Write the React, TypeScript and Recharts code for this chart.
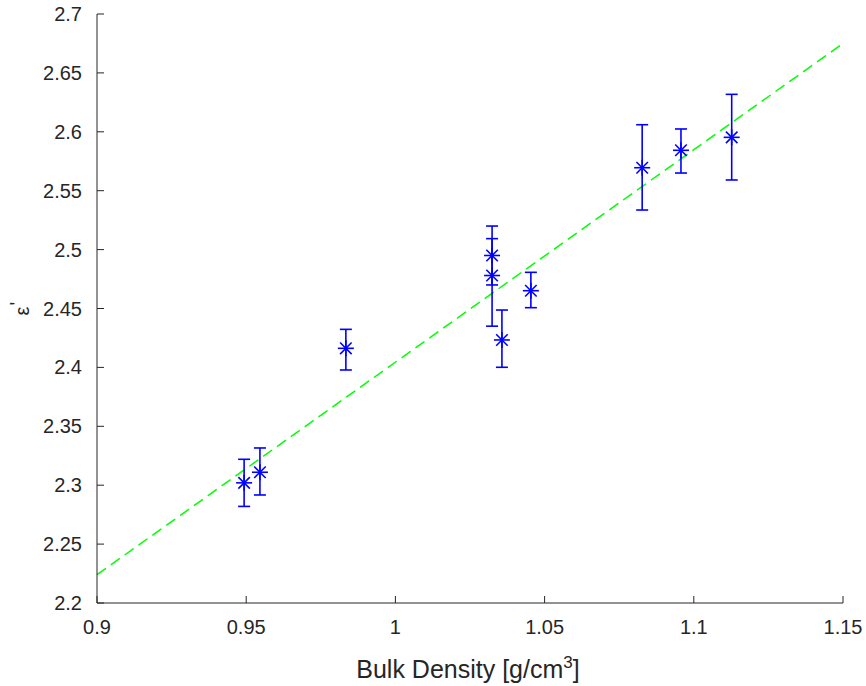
import {
  ScatterChart,
  Scatter,
  XAxis,
  YAxis,
  ErrorBar,
  ReferenceLine,
} from "recharts";

const density = [0.9493, 0.9546, 0.9834, 1.0324, 1.0324, 1.0357, 1.0454, 1.0827, 1.0957, 1.1127];
const permittivity = [2.302, 2.311, 2.4162, 2.495, 2.478, 2.4233, 2.4651, 2.5695, 2.5843, 2.5953];
const lowerBound = [2.282, 2.2917, 2.3978, 2.47, 2.435, 2.4001, 2.4507, 2.5336, 2.565, 2.5591];
const upperBound = [2.322, 2.3316, 2.4323, 2.52, 2.5093, 2.4487, 2.4807, 2.606, 2.6024, 2.6318];

const xTicks = [0.9, 0.95, 1, 1.05, 1.1, 1.15];
const yTicks = [2.2, 2.25, 2.3, 2.35, 2.4, 2.45, 2.5, 2.55, 2.6, 2.65, 2.7];

// least squares fit line, end points
const fitStart = { x: 0.9, y: 2.224 };
const fitEnd = { x: 1.15, y: 2.675 };

const points = density.map((d, i) => ({
  density: d,
  eps: permittivity[i],
  err: [permittivity[i] - lowerBound[i], upperBound[i] - permittivity[i]],
}));

const AXIS = "#262626";
const FONT = "'Liberation Sans', Arial, Helvetica, sans-serif";
const TICK_LEN = 7;

const fmt = (v: number) => String(Number(v.toFixed(2)));

function StarMarker(props: any) {
  const { cx, cy } = props;
  const r = 8;
  const d = r * 0.72;
  return (
    <g stroke="#0000ff" strokeWidth={1.6}>
      <line x1={cx - r} y1={cy} x2={cx + r} y2={cy} />
      <line x1={cx} y1={cy - r} x2={cx} y2={cy + r} />
      <line x1={cx - d} y1={cy - d} x2={cx + d} y2={cy + d} />
      <line x1={cx - d} y1={cy + d} x2={cx + d} y2={cy - d} />
    </g>
  );
}

function XTick(props: any) {
  const { x, y, payload } = props;
  return (
    <g>
      <line x1={x} y1={y} x2={x} y2={y - TICK_LEN} stroke={AXIS} />
      <text x={x} y={y + 31} textAnchor="middle" fill={AXIS} fontSize={20} fontFamily={FONT}>
        {fmt(payload.value)}
      </text>
    </g>
  );
}

function YTick(props: any) {
  const { x, y, payload } = props;
  return (
    <g>
      <line x1={x} y1={y} x2={x + TICK_LEN} y2={y} stroke={AXIS} />
      <text x={x - 15} y={y + 7} textAnchor="end" fill={AXIS} fontSize={20} fontFamily={FONT}>
        {fmt(payload.value)}
      </text>
    </g>
  );
}

export default function App() {
  return (
    <div style={{ position: "absolute", left: 0, top: 0, width: 866, height: 686, background: "#fff" }}>
      <ScatterChart
        width={866}
        height={686}
        margin={{ top: 14, right: 23, bottom: 0, left: 0 }}
      >
        <XAxis
          type="number"
          dataKey="density"
          domain={[0.9, 1.15]}
          ticks={xTicks}
          height={83}
          tickLine={false}
          tickSize={0}
          tickMargin={0}
          axisLine={{ stroke: AXIS }}
          tick={<XTick />}
          allowDataOverflow
          label={{
            content: (p: any) => {
              const vb = p.viewBox;
              return (
                <text x={vb.x + vb.width / 2 - 2} y={vb.y + 75} textAnchor="middle" fill={AXIS} fontSize={25} fontFamily={FONT}>
                  Bulk Density [g/cm<tspan dy={-10} fontSize={17}>3</tspan><tspan dy={10}>]</tspan>
                </text>
              );
            },
          }}
        />
        <YAxis
          type="number"
          dataKey="eps"
          domain={[2.2, 2.7]}
          ticks={yTicks}
          width={97}
          tickLine={false}
          tickSize={0}
          tickMargin={0}
          axisLine={{ stroke: AXIS }}
          tick={<YTick />}
          allowDataOverflow
          label={{
            content: (p: any) => {
              const vb = p.viewBox;
              const cx = 29;
              const cy = vb.y + vb.height / 2;
              return (
                <text x={cx} y={cy} textAnchor="middle" fill={AXIS} fontSize={20} fontFamily={FONT} transform={`rotate(-90, ${cx}, ${cy})`}>
                  ε<tspan dy={-5} dx={1}>'</tspan>
                </text>
              );
            },
          }}
        />
        <ReferenceLine
          segment={[fitStart, fitEnd]}
          stroke="#00ff00"
          strokeWidth={1.5}
          strokeDasharray="11 6"
          ifOverflow="visible"
        />
        <Scatter data={points} shape={<StarMarker />} isAnimationActive={false}>
          <ErrorBar dataKey="err" direction="y" width={6} stroke="#0000ff" strokeWidth={1.6} />
        </Scatter>
      </ScatterChart>
    </div>
  );
}
